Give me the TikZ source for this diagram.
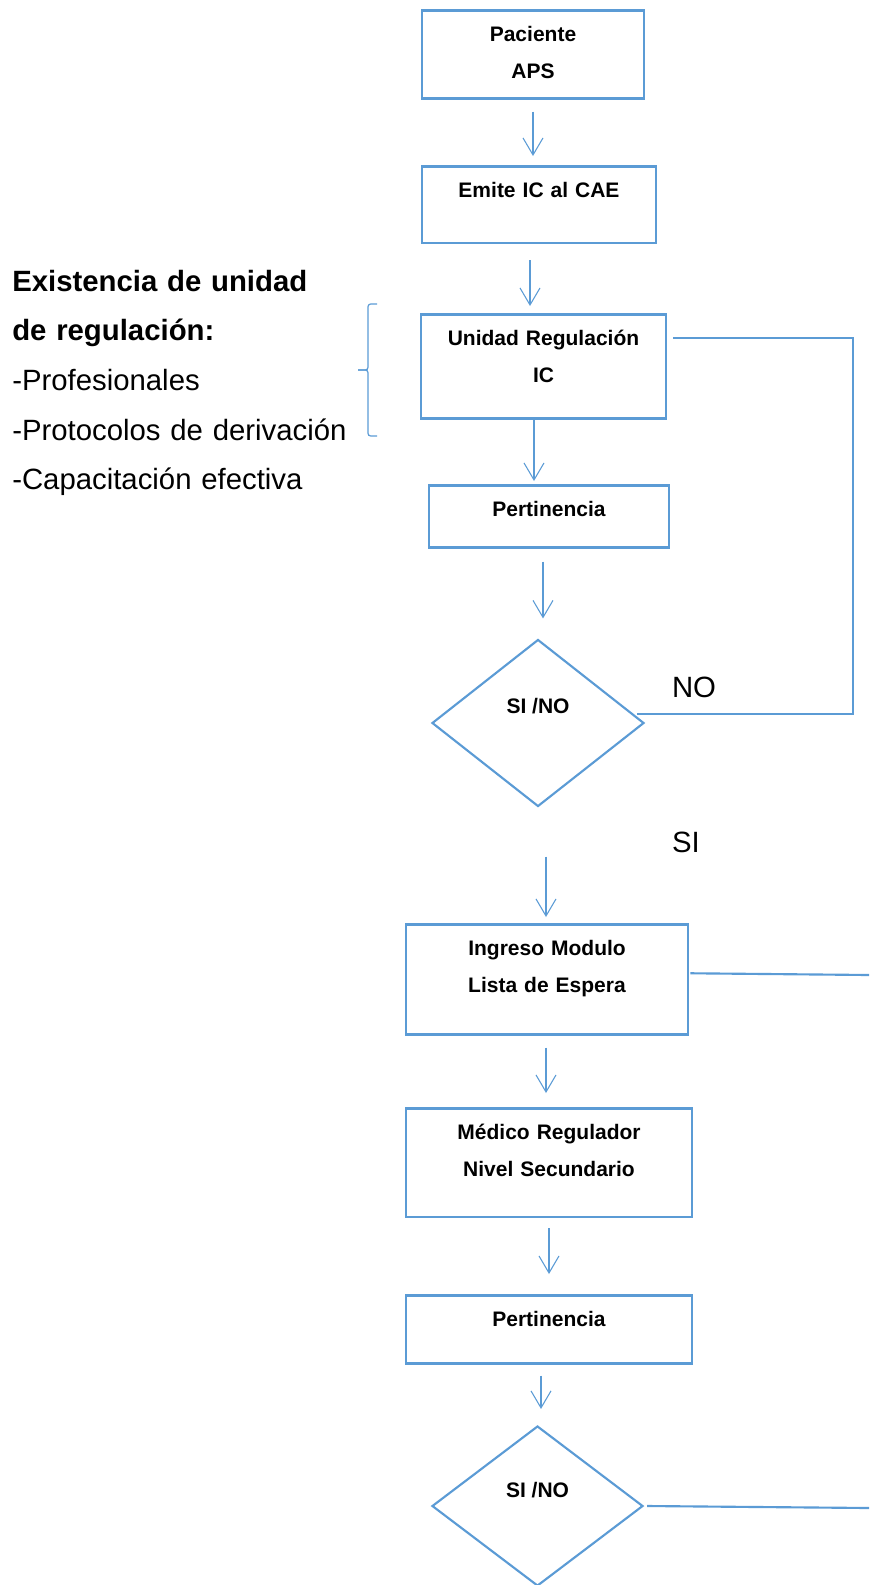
\documentclass[tikz,border=0pt]{standalone}
\usepackage[dvipsnames]{xcolor}
\usepackage{fontspec}
\setmainfont{Liberation Sans}
\usepackage{tikz}
\usetikzlibrary{arrows.meta,shapes.geometric}
\definecolor{azul}{RGB}{91,155,213}
\newcommand{\flecha}[5] % {x}{desde}{hasta}{recorte inicio}{recorte fin}
{
	\draw [flecha, shorten <=#4, shorten >=#5] (#1,0 |- #2) -- (#1,0 |- #3);
}
\begin{document}
\begin{tikzpicture}[x=0.75pt, y=-0.75pt,
	caja/.style={draw=azul, line width=1.9pt, inner sep=0pt, anchor=north, align=center,
		font=\fontsize{15.75pt}{27.75pt}\selectfont\bfseries, text height=23.6pt},
	decision/.style={diamond, draw=azul, line width=1.6pt, inner sep=0pt,
		font=\fontsize{15.75pt}{27.75pt}\selectfont\bfseries, text height=12pt},
	texto/.style={inner sep=0pt, align=left, font=\fontsize{22pt}{37.3pt}\selectfont},
	etiqueta/.style={inner sep=0pt, font=\fontsize{22pt}{26pt}\selectfont},
	flecha/.style={draw=azul, line width=0.8pt, -{Straight Barb[length=12.75pt, width=15pt]}},
	linea/.style={draw=azul, line width=1.6pt},
	llave/.style={draw=azul, line width=0.9pt, rounded corners=2pt}]

		\useasboundingbox (0,0) rectangle (869,1585);

		%	\foreach \i in {0,100,...,800} {
		%        \draw [very thin,gray] (\i,0) -- (\i,1585);
		%    }

		\node [caja, text width=166.5pt, text depth=42.4pt] (paciente) at (533,9) {Paciente\\APS};
		\node [caja, text width=175.5pt, text depth=34.1pt] (emite) at (539,165) {Emite IC al CAE};
		\node [caja, text width=183.75pt, text depth=54.4pt] (unidad) at (543.5,313) {Unidad Regulación\\IC};
		\node [caja, text width=180pt, text depth=22.9pt] (pert1) at (549,484) {Pertinencia};
		\node [decision, minimum width=159pt, minimum height=125.25pt, text depth=26.25pt] (dec1) at (538,723) {SI /NO};
		\node [caja, text width=211.5pt, text depth=58.9pt] (ingreso) at (547,923) {Ingreso Modulo\\Lista de Espera};
		\node [caja, text width=214.5pt, text depth=58.1pt] (medico) at (549,1107) {Médico Regulador\\Nivel Secundario};
		\node [caja, text width=214.5pt, text depth=27.4pt] (pert2) at (549,1294) {Pertinencia};
		\node [decision, minimum width=158.25pt, minimum height=120pt, text depth=24.75pt] (dec2) at (537.5,1506) {SI /NO};

		\node [texto, text width=255pt, anchor=base west] (existencia) at (12,291)
			{\textbf{Existencia de unidad}\\\textbf{de regulación:}\\-Profesionales\\-Protocolos de derivación\\-Capacitación efectiva};
		\node [etiqueta] (etiqno) at (694,687) {NO};
		\node [etiqueta] (etiqsi) at (686,842) {SI};

		\flecha{533}{paciente.south}{emite.north}{9pt}{6.75pt}
		\flecha{530}{emite.south}{unidad.north}{12pt}{5.25pt}
		\flecha{534}{unidad.south}{pert1.north}{0pt}{2.25pt}
		\flecha{543}{pert1.south}{dec1.north}{9.75pt}{15pt}
		\flecha{546}{dec1.south}{ingreso.north}{36.75pt}{4.5pt}
		\flecha{546}{ingreso.south}{medico.north}{9pt}{10.5pt}
		\flecha{549}{medico.south}{pert2.north}{7.5pt}{15pt}
		\flecha{541}{pert2.south}{dec2.north}{8.25pt}{12pt}

		\draw [linea] ([shift={(-8,-9)}]dec1.east) -| ([shift={(186,-28)}]unidad.east) -- ([shift={(6,-28)}]unidad.east);

		\coordinate (finA) at (869,975);
		\coordinate (finB) at (869,1508);
		\draw [linea] ([shift={(1,-6)}]ingreso.east) -- (finA);
		\draw [linea] ([shift={(3,0)}]dec2.east) -- (finB);

		\draw [llave] (377,304) -- (368,304) -- (368,370) -- (358,370);
		\draw [llave] (358,370) -- (368,370) -- (368,436) -- (377,436);

\end{tikzpicture}
\end{document}
